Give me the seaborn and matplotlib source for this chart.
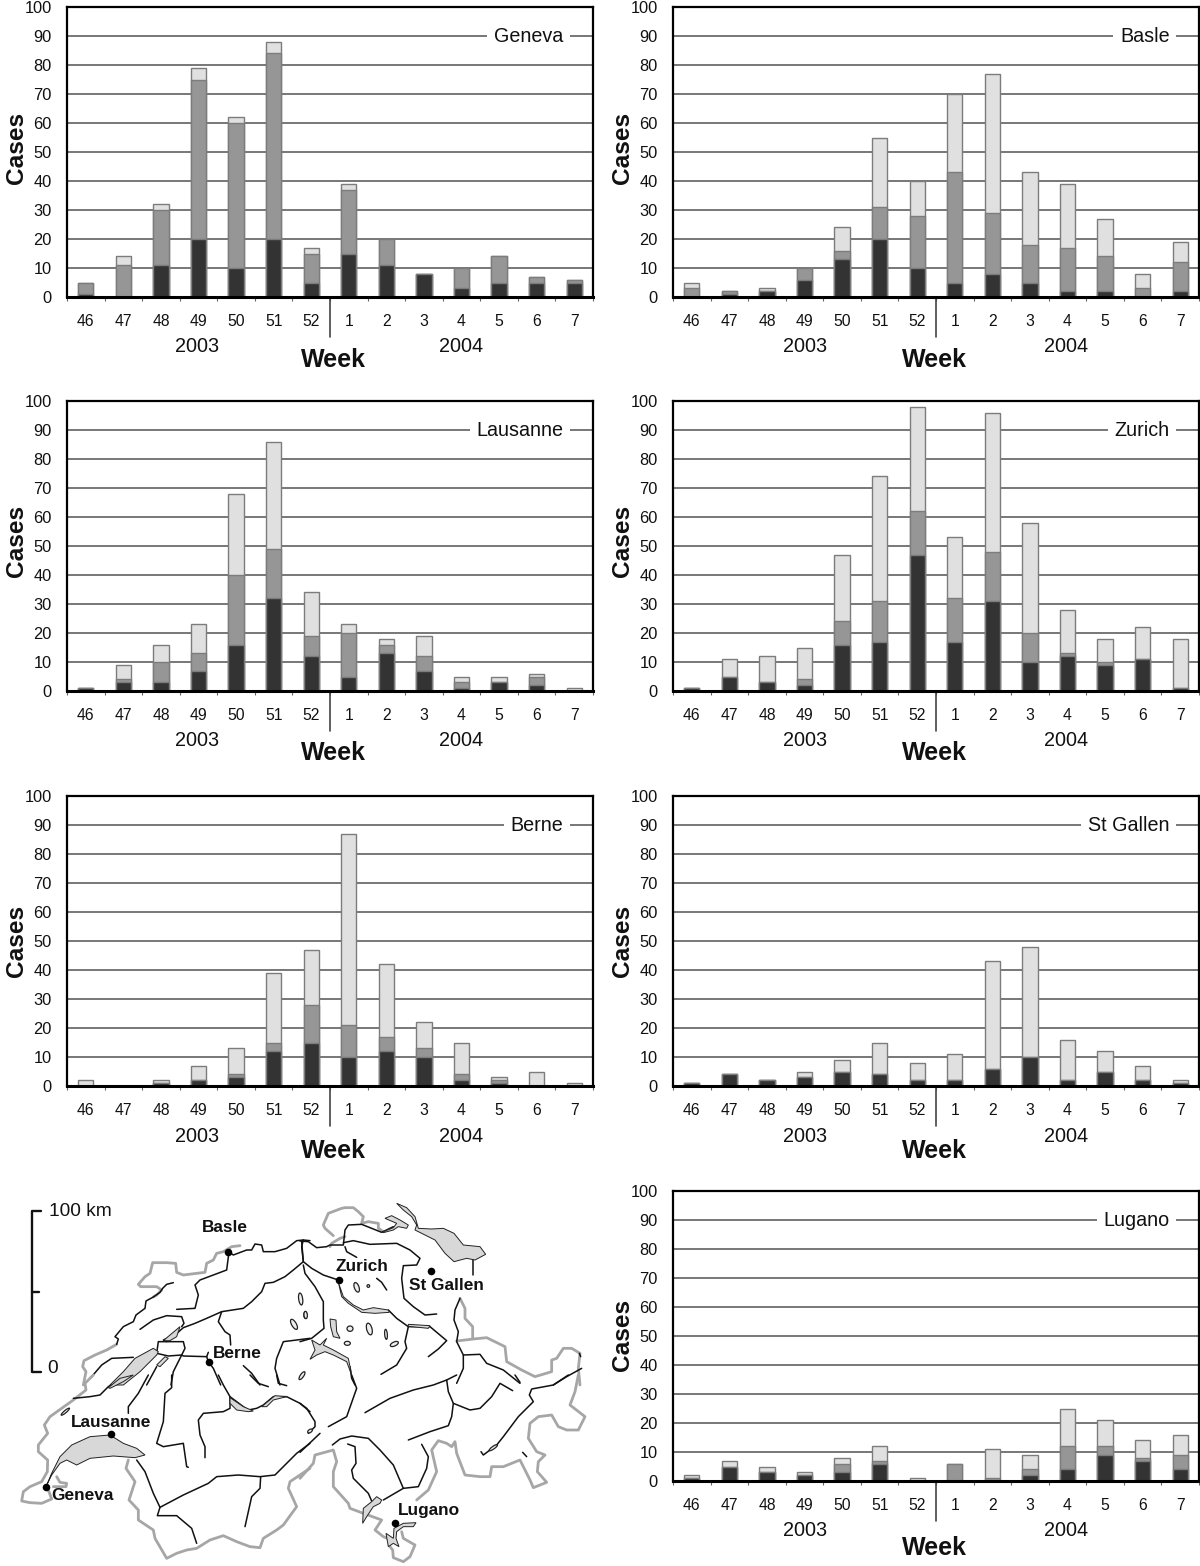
import numpy as np
import pandas as pd
import seaborn as sns
import matplotlib
matplotlib.use("Agg")
import matplotlib.pyplot as plt
from matplotlib.patches import Ellipse, Polygon
from matplotlib.transforms import blended_transform_factory

weeks = ["46", "47", "48", "49", "50", "51", "52", "1", "2", "3", "4", "5", "6", "7"]

# three stacked levels: dark top, middle top, overall top
geneva_dark = [1, 0, 11, 20, 10, 20, 5, 15, 11, 8, 3, 5, 5, 5]
geneva_mid = [5, 11, 30, 75, 60, 84, 15, 37, 20, 8, 10, 14, 7, 6]
geneva_top = [5, 14, 32, 79, 62, 88, 17, 39, 20, 8, 10, 14, 7, 6]

basle_dark = [0, 1, 2, 6, 13, 20, 10, 5, 8, 5, 2, 2, 0, 2]
basle_mid = [3, 2, 2, 10, 16, 31, 28, 43, 29, 18, 17, 14, 3, 12]
basle_top = [5, 2, 3, 10, 24, 55, 40, 70, 77, 43, 39, 27, 8, 19]

lausanne_dark = [1, 3, 3, 7, 16, 32, 12, 5, 13, 7, 1, 3, 2, 0]
lausanne_mid = [1, 4, 10, 13, 40, 49, 19, 20, 16, 12, 3, 3, 5, 0]
lausanne_top = [1, 9, 16, 23, 68, 86, 34, 23, 18, 19, 5, 5, 6, 1]

zurich_dark = [1, 5, 3, 2, 16, 17, 47, 17, 31, 10, 12, 9, 11, 1]
zurich_mid = [1, 5, 3, 4, 24, 31, 62, 32, 48, 20, 13, 10, 11, 1]
zurich_top = [1, 11, 12, 15, 47, 74, 98, 53, 96, 58, 28, 18, 22, 18]

berne_dark = [0, 0, 1, 2, 3, 12, 15, 10, 12, 10, 2, 1, 0, 0]
berne_mid = [0, 0, 1, 2, 4, 15, 28, 21, 17, 13, 4, 2, 0, 0]
berne_top = [2, 0, 2, 7, 13, 39, 47, 87, 42, 22, 15, 3, 5, 1]

gallen_dark = [1, 4, 2, 3, 5, 4, 2, 2, 6, 10, 2, 5, 2, 1]
gallen_mid = [1, 4, 2, 3, 5, 4, 2, 2, 6, 10, 2, 5, 2, 1]
gallen_top = [1, 4, 2, 5, 9, 15, 8, 11, 43, 48, 16, 12, 7, 2]

lugano_dark = [1, 5, 3, 2, 3, 6, 0, 0, 0, 2, 4, 9, 7, 4]
lugano_mid = [1, 5, 3, 2, 6, 7, 0, 6, 1, 4, 12, 12, 8, 9]
lugano_top = [2, 7, 5, 3, 8, 12, 1, 6, 11, 9, 25, 21, 14, 16]

# map traced in four overlapping sheets (nw, ne, sw, se), each with its own origin
sheet_shift = {"nw": (30, 0), "ne": (900, 0), "sw": (30, 540), "se": (900, 540)}

border_lines = {
    "nw": [
        [(690, 152), (665, 155), (640, 170), (620, 175), (610, 195), (590, 205), (585, 232), (520, 240), (500, 232),
         (497, 205), (470, 203), (428, 203), (420, 235), (405, 245), (385, 268), (392, 275), (440, 275), (455, 285),
         (440, 300), (430, 306)],
        [(320, 448), (290, 465), (255, 480), (222, 497), (218, 515), (228, 530), (220, 570)],
    ],
    "ne": [
        [(100, 122), (75, 100), (70, 90), (85, 55), (125, 40), (135, 38), (160, 38), (175, 50), (190, 65), (185, 85),
         (205, 80), (235, 85), (235, 100), (250, 110)],
        [(135, 125), (120, 130), (95, 145), (90, 155)],
        [(840, 570), (835, 520), (840, 475), (815, 460), (790, 460), (770, 490), (755, 495), (755, 530), (705, 545),
         (665, 525), (620, 500), (615, 455), (560, 428), (520, 432), (470, 438)],
        [(480, 310), (495, 340), (495, 370), (518, 395), (518, 430)],
    ],
    "sw": [
        [(250, 0), (225, 25), (228, 45), (190, 75), (155, 100), (120, 125), (103, 150), (113, 175), (85, 210),
         (85, 230), (113, 255), (112, 290), (95, 320), (60, 335), (40, 350), (35, 378), (60, 383), (95, 385),
         (125, 372), (115, 345)],
        [(140, 305), (150, 322), (170, 325), (168, 335), (130, 335)],
        [(355, 255), (348, 280), (375, 320), (357, 375), (385, 405), (385, 435), (430, 465), (435, 490), (470, 550),
         (500, 535), (530, 525), (560, 520), (600, 495), (640, 482), (680, 500), (720, 515), (750, 518), (760, 490),
         (800, 465), (820, 450), (860, 395), (835, 340), (840, 320), (900, 280)],
    ],
    "se": [
        [(0, 310), (40, 265), (45, 240), (100, 225), (110, 260), (100, 290), (100, 335), (145, 385), (150, 400),
         (190, 415), (245, 435), (225, 465), (250, 485), (262, 490)],
        [(305, 470), (310, 490), (345, 510), (330, 545), (310, 560), (280, 548), (278, 525), (270, 515)],
        [(350, 375), (385, 345), (410, 290), (395, 225), (415, 197), (440, 205), (455, 215), (465, 200), (470, 235),
         (495, 300), (540, 305), (570, 305), (575, 275), (610, 275), (660, 255), (690, 315), (700, 338), (740, 322),
         (712, 290), (715, 260), (735, 240), (710, 230), (685, 190), (690, 145), (715, 125), (755, 120), (775, 155),
         (800, 165), (835, 165), (855, 125), (810, 90), (825, 50), (835, 0)],
    ],
}

river_lines = {
    "nw": [
        [(655, 170), (670, 180), (710, 165), (725, 165), (735, 147), (755, 150), (760, 170), (795, 170), (830, 160),
         (860, 137), (880, 135), (900, 137)],
        [(490, 263), (470, 268), (458, 280), (450, 292), (430, 306), (408, 318), (405, 340), (378, 360), (370, 380),
         (340, 395), (315, 425), (325, 432), (320, 448)],
        [(880, 135), (875, 155), (880, 200), (850, 225), (825, 245), (790, 262), (765, 265), (755, 290), (745, 300),
         (725, 320), (700, 340), (635, 350), (590, 370), (555, 385), (520, 398), (495, 420), (460, 435)],
        [(500, 343), (555, 340), (565, 300), (555, 270), (570, 255), (650, 225), (657, 170)],
        [(635, 350), (625, 380), (645, 410), (660, 420), (662, 450)],
        [(390, 403), (430, 375), (470, 362), (515, 365), (522, 385), (515, 395)],
        [(245, 545), (275, 510), (305, 490), (370, 487)],
        [(470, 440), (445, 440), (440, 475), (475, 483), (515, 480), (520, 483), (590, 485), (595, 500), (610, 520),
         (632, 570)],
        [(470, 440), (520, 440), (525, 460), (515, 480), (490, 530), (483, 570)],
        [(590, 485), (595, 472)],
        [(440, 515), (410, 570)],
        [(700, 512), (725, 535), (750, 570)],
        [(900, 430), (820, 440), (800, 490), (795, 520), (810, 570)],
    ],
    "ne": [
        [(0, 138), (25, 140), (50, 158), (80, 155), (90, 150), (130, 150), (135, 105), (145, 90), (185, 88), (215, 100),
         (245, 112), (280, 95)],
        [(130, 143), (160, 137), (210, 148), (290, 145), (330, 165), (360, 190), (350, 210), (310, 212), (305, 250),
         (312, 310), (340, 335), (375, 360), (410, 357)],
        [(135, 155), (140, 170), (170, 187)],
        [(5, 140), (10, 200), (35, 220), (70, 240), (115, 255)],
        [(10, 210), (15, 235), (45, 275), (70, 320), (70, 375), (72, 400), (35, 430), (0, 440)],
        [(265, 345), (290, 370), (325, 395), (390, 395), (440, 437), (415, 462), (385, 485)],
        [(325, 395), (315, 440), (320, 460), (290, 510), (243, 538)],
        [(480, 310), (465, 345), (462, 375), (475, 410), (470, 440), (490, 480), (490, 520), (470, 565)],
        [(490, 480), (540, 478), (560, 505), (610, 525), (660, 565)],
        [(838, 475), (842, 485)],
        [(845, 520), (800, 545), (760, 570)],
        [(520, 195), (520, 240)],
        [(230, 250), (245, 262), (260, 285)],
        [(150, 515), (155, 550), (165, 570)],
    ],
    "sw": [
        [(900, 205), (860, 235), (795, 300), (750, 305), (685, 300), (620, 305), (595, 325), (520, 360), (450, 397),
         (430, 355), (405, 290), (380, 255)],
        [(450, 397), (442, 422), (500, 422), (545, 460), (560, 505)],
        [(752, 305), (750, 340), (725, 365), (705, 455)],
        [(625, 0), (640, 30), (660, 65), (660, 100), (640, 110), (580, 115), (565, 135), (570, 180), (585, 215),
         (585, 248)],
        [(660, 65), (700, 95), (715, 105), (740, 100), (760, 90), (790, 65), (830, 65), (870, 85), (900, 110)],
        [(720, 0), (745, 25), (775, 35)],
        [(800, 0), (805, 25), (830, 32)],
        [(485, 0), (485, 38), (465, 55), (460, 140), (440, 205), (460, 215), (520, 205), (525, 240), (530, 275),
         (535, 277)],
        [(415, 0), (385, 55), (355, 95), (355, 115)],
        [(190, 70), (240, 65), (270, 60), (295, 35), (310, 25)],
    ],
    "se": [
        [(155, 0), (170, 40), (140, 125), (85, 155)],
        [(195, 113), (270, 70), (340, 45), (400, 30), (440, 15), (470, 0)],
        [(440, 15), (445, 50), (460, 85), (455, 125), (445, 152), (390, 170), (325, 195)],
        [(460, 85), (510, 105), (540, 100), (575, 65), (600, 25), (638, 47)],
        [(805, 0), (760, 30), (695, 42), (688, 60), (700, 80), (655, 125), (610, 185), (590, 210), (550, 240),
         (543, 230)],
        [(645, 0), (660, 22)],
        [(668, 232), (680, 245)],
        [(0, 85), (20, 100), (45, 140), (45, 155), (25, 175)],
        [(60, 175), (0, 232)],
        [(97, 210), (120, 192), (155, 183), (205, 190), (240, 225), (280, 270), (310, 340), (250, 375)],
        [(310, 340), (355, 335), (380, 280), (385, 245), (365, 208)],
        [(143, 207), (165, 215), (168, 265), (155, 285), (160, 310), (205, 355), (215, 378)],
    ],
}

grey_lakes = {
    "nw": [
        [(300, 570), (340, 530), (375, 490), (430, 460), (445, 470), (440, 480), (390, 530), (340, 570)],
        [(460, 437), (480, 420), (510, 395), (500, 425), (480, 437)],
        [(440, 510), (465, 485), (475, 490), (450, 515)],
    ],
    "ne": [
        [(90, 372), (108, 375), (110, 410), (120, 430), (100, 425), (92, 395)],
        [(35, 435), (60, 450), (80, 430), (70, 450), (100, 465), (145, 490), (155, 540), (140, 500), (100, 480),
         (75, 470), (50, 480), (30, 493), (45, 465)],
        [(115, 262), (130, 305), (160, 330), (190, 345), (220, 338), (265, 345), (268, 352), (225, 355), (185, 352),
         (145, 325), (125, 305)],
        [(325, 388), (390, 392), (385, 400), (325, 394)],
        [(290, 25), (320, 38), (345, 65), (355, 100), (395, 102), (430, 100), (462, 115), (490, 150), (540, 155),
         (557, 178), (525, 195), (500, 190), (462, 200), (435, 175), (405, 135), (345, 105), (350, 90), (335, 65),
         (310, 45)],
        [(250, 110), (280, 98), (290, 85), (255, 70), (275, 62), (300, 75), (325, 90), (320, 100), (295, 95),
         (280, 105), (250, 113)],
    ],
    "sw": [
        [(108, 335), (125, 295), (150, 245), (185, 210), (240, 185), (300, 180), (340, 205), (380, 220), (405, 240),
         (375, 248), (310, 243), (240, 250), (200, 270), (170, 255), (150, 265), (125, 300)],
        [(295, 38), (330, 10), (370, 0), (340, 20), (300, 40)],
        [(660, 68), (700, 95), (730, 108), (715, 110), (680, 105), (660, 85)],
        [(755, 95), (795, 62), (830, 65), (790, 75), (770, 95)],
    ],
    "se": [
        [(188, 445), (190, 400), (215, 380), (230, 365), (245, 375), (240, 385), (220, 395), (200, 425)],
        [(265, 515), (258, 475), (280, 490), (282, 460), (310, 445), (348, 443), (340, 455), (310, 455), (290, 470),
         (288, 490), (297, 515), (280, 505)],
    ],
}

small_lakes = {
    "nw": [(872, 312, 12, 36, -8), (886, 360, 9, 20, 0), (852, 388, 14, 34, -30), (876, 542, 10, 28, 35)],
    "ne": [(170, 277, 14, 30, -20), (205, 273, 8, 8, 0), (17, 360, 10, 22, -5), (150, 401, 18, 16, 0),
           (142, 445, 18, 12, 0), (208, 402, 16, 36, -15), (258, 418, 8, 30, -5), (283, 447, 26, 12, -25)],
    "sw": [(166, 110, 32, 7, -40)],
    "se": [(30, 168, 16, 9, -35), (580, 218, 30, 8, -35)],
}

cities = ["Basle", "Zurich", "St Gallen", "Berne", "Lausanne", "Geneva", "Lugano"]
city_x = [685, 1017, 1292, 626, 332, 137, 1184]
city_y = [170, 255, 227, 502, 717, 875, 983]
label_x = [675, 1085, 1340, 713, 332, 247, 1288]
label_y = [98, 215, 270, 475, 682, 902, 945]

DARK = "#333333"
MID = "#969696"
LIGHT = "#e0e0e0"
W, H = 1200, 1566

sns.set_theme(style="white")
plt.rcParams["font.family"] = ["Liberation Sans", "DejaVu Sans"]


def add_axes_px(fig, left, top, right, bottom):
    return fig.add_axes([left / W, 1 - bottom / H, (right - left) / W, (bottom - top) / H])


def draw_panel(fig, name, left, top, dark, mid, total, year_x, week_x, week_dy, cases_dy):
    ax = add_axes_px(fig, left, top, left + 526, top + 290)
    data = pd.DataFrame({"week": weeks, "dark": dark, "mid": mid, "total": total})
    # tallest level first so the shorter ones sit in front
    for col, colour in (("total", LIGHT), ("mid", MID), ("dark", DARK)):
        sns.barplot(data=data, x="week", y=col, order=weeks, color=colour, saturation=1, width=0.41,
                    edgecolor="#7c7c7c", linewidth=1.0, ax=ax, zorder=3)
    ax.set_xlim(-0.5, 13.5)
    ax.set_ylim(0, 100)
    ax.set_yticks(range(0, 101, 10))
    ax.set_xlabel("")
    ax.set_ylabel("")
    ax.yaxis.grid(True, color="#777777", linewidth=1.4)
    ax.set_axisbelow(True)
    for s in ax.spines.values():
        s.set_color("black")
        s.set_linewidth(1.6)
        s.set_zorder(5)
    ax.spines["bottom"].set_linewidth(2.2)
    ax.tick_params(axis="y", length=0, pad=11, labelsize=11.8, colors="#111111")
    ax.tick_params(axis="x", which="major", length=0, pad=12.5, labelsize=11.3, colors="#111111")
    ax.set_xticks(np.arange(-0.5, 14, 1), minor=True)
    ax.tick_params(axis="x", which="minor", length=3, width=0.8, color="#666666", bottom=True)

    tr = blended_transform_factory(ax.transData, ax.transAxes)
    ax.plot([6.5, 6.5], [0, -40 / 290], transform=tr, color="#444444", lw=1.2, clip_on=False)
    ax.text(0.944, 0.897, name, transform=ax.transAxes, ha="right", va="center", fontsize=14.2, color="#111111",
            zorder=4, bbox=dict(facecolor="white", edgecolor="none", pad=5))

    ax.text(year_x[0], -50 / 290, "2003", transform=ax.transAxes, ha="center", va="center", fontsize=14.3,
            color="#111111")
    ax.text(year_x[1], -50 / 290, "2004", transform=ax.transAxes, ha="center", va="center", fontsize=14.3,
            color="#111111")
    ax.text(week_x, -(62 + week_dy) / 290, "Week", transform=ax.transAxes, ha="center", va="center", fontsize=18,
            fontweight="bold", color="#111111")
    ax.text(-51 / 526, 0.5 - cases_dy / 290, "Cases", transform=ax.transAxes, ha="center", va="center", rotation=90,
            fontsize=17.6, fontweight="bold", color="#111111")
    return ax


def draw_map(fig):
    ax = add_axes_px(fig, 0, 1195, 600, 1566)
    ax.set_xlim(0, 1800)
    ax.set_ylim(1113, 0)
    ax.axis("off")
    for sheet, (dx, dy) in sheet_shift.items():
        for line in border_lines[sheet]:
            xs, ys = zip(*line)
            ax.plot(np.array(xs) + dx, np.array(ys) + dy, color="#a6a6a6", lw=2.0, solid_joinstyle="round", zorder=2)
        for line in river_lines[sheet]:
            xs, ys = zip(*line)
            ax.plot(np.array(xs) + dx, np.array(ys) + dy, color="#111111", lw=1.1, solid_joinstyle="round", zorder=2)
        for lake in grey_lakes[sheet]:
            pts = [(x + dx, y + dy) for x, y in lake]
            ax.add_patch(Polygon(pts, closed=True, facecolor="#d8d8d8", edgecolor="#222222", lw=0.7, zorder=3))
        for cx, cy, w, h, ang in small_lakes[sheet]:
            ax.add_patch(Ellipse((cx + dx, cy + dy), w, h, angle=ang, facecolor="#eeeeee", edgecolor="#222222",
                                 lw=0.9, zorder=3))
    # scale bar
    ax.plot([122, 95, 95, 122], [47, 47, 532, 532], color="#111111", lw=1.7)
    ax.plot([95, 118], [291, 291], color="#111111", lw=1.7)
    ax.text(147, 50, "100 km", ha="left", va="center", fontsize=13.8, color="#111111")
    ax.text(142, 520, "0", ha="left", va="center", fontsize=13.8, color="#111111")
    sns.scatterplot(x=city_x, y=city_y, color="black", s=30, linewidth=0, ax=ax, zorder=4, legend=False)
    ax.set_xlim(0, 1800)
    ax.set_ylim(1113, 0)
    for name, x, y in zip(cities, label_x, label_y):
        ax.text(x, y, name, ha="center", va="center", fontsize=12.4, fontweight="bold", color="#111111", zorder=5)


fig = plt.figure(figsize=(W / 100, H / 100), dpi=100, facecolor="white")

year_left = (0.247, 0.749)
year_right = (0.251, 0.747)

draw_panel(fig, "Geneva", 67, 7, geneva_dark, geneva_mid, geneva_top, year_left, 0.507, 1, -4)
draw_panel(fig, "Basle", 673, 7, basle_dark, basle_mid, basle_top, year_right, 0.498, 1, -4)
draw_panel(fig, "Lausanne", 67, 401, lausanne_dark, lausanne_mid, lausanne_top, year_left, 0.507, 0, -5)
draw_panel(fig, "Zurich", 673, 401, zurich_dark, zurich_mid, zurich_top, year_right, 0.498, 0, -5)
draw_panel(fig, "Berne", 67, 796, berne_dark, berne_mid, berne_top, year_left, 0.507, 3, 0)
draw_panel(fig, "St Gallen", 673, 796, gallen_dark, gallen_mid, gallen_top, year_right, 0.498, 3, 0)
draw_panel(fig, "Lugano", 673, 1191, lugano_dark, lugano_mid, lugano_top, year_right, 0.498, 5, -1)
draw_map(fig)

fig.savefig("out.png", dpi=100)
